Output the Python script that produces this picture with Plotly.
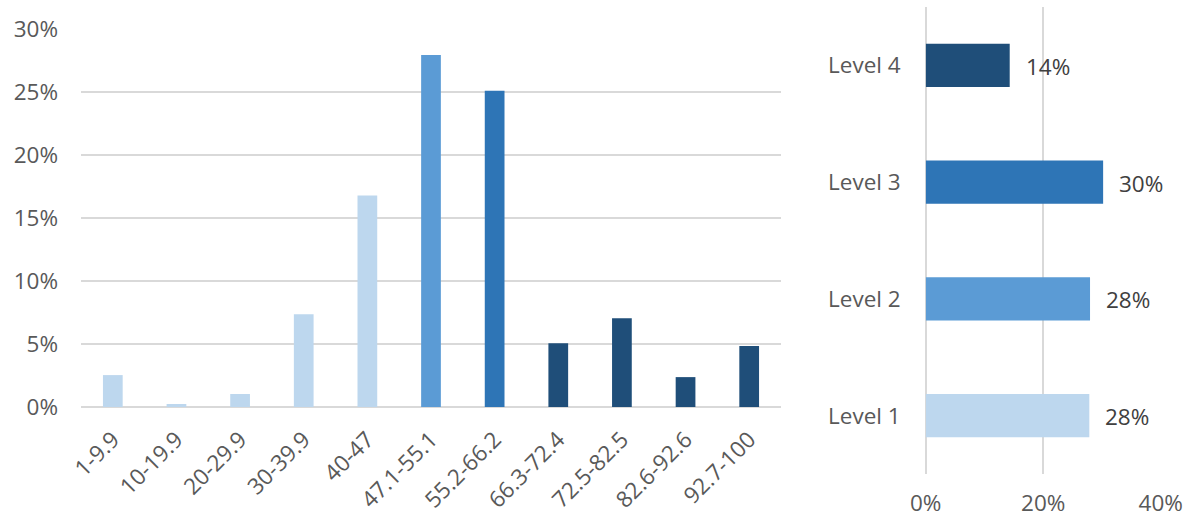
import plotly.graph_objects as go

# ---- data ----
score_bins = ["1-9.9", "10-19.9", "20-29.9", "30-39.9", "40-47", "47.1-55.1",
              "55.2-66.2", "66.3-72.4", "72.5-82.5", "82.6-92.6", "92.7-100"]
bin_share = [0.0253, 0.0024, 0.0103, 0.0736, 0.1677, 0.279, 0.2508, 0.0506, 0.0704, 0.0237, 0.0483]
bin_level = [1, 1, 1, 1, 1, 2, 3, 4, 4, 4, 4]

levels = ["Level 1", "Level 2", "Level 3", "Level 4"]
level_share = [0.2785, 0.2797, 0.302, 0.143]
level_labels = ["28%", "28%", "30%", "14%"]

level_colors = {1: "#BDD7EE", 2: "#5B9BD5", 3: "#2E75B6", 4: "#1F4E79"}

FONT = "Open Sans"
TICK_COLOR = "#595959"
GRID = "#D9D9D9"
FS = 22.5
W, H = 1191, 519

fig = go.Figure()

fig.add_trace(go.Bar(
    x=score_bins, y=bin_share, width=0.31,
    marker=dict(color=[level_colors[l] for l in bin_level], line=dict(width=0)),
    xaxis="x", yaxis="y", showlegend=False, hoverinfo="x+y",
))

fig.add_trace(go.Bar(
    y=levels, x=level_share, orientation="h", width=0.37,
    marker=dict(color=[level_colors[i + 1] for i in range(4)], line=dict(width=0)),
    xaxis="x2", yaxis="y2", showlegend=False, hoverinfo="x+y",
))

for lv, val, lab in zip(levels, level_share, level_labels):
    fig.add_annotation(x=val, y=lv, xref="x2", yref="y2", text=lab,
                       showarrow=False, xanchor="left", yanchor="middle", xshift=14, yshift=-1,
                       font=dict(family=FONT, size=FS, color="#404040"))

fig.update_layout(
    width=W, height=H,
    margin=dict(l=0, r=0, t=0, b=0),
    paper_bgcolor="white", plot_bgcolor="white",
    font=dict(family=FONT, size=FS, color=TICK_COLOR),
    xaxis=dict(domain=[81 / W, 781 / W], type="category", tickangle=-45,
               showgrid=False, zeroline=False, showline=False, ticks="",
               ticklabelstandoff=14, anchor="y", automargin=False,
               tickfont=dict(family=FONT, size=FS, color=TICK_COLOR)),
    yaxis=dict(domain=[1 - 407 / H, 1 - 28 / H], range=[0, 0.3005],
               tickformat=".0%", dtick=0.05, showgrid=True, gridcolor=GRID, gridwidth=1.5,
               zeroline=True, zerolinecolor=GRID, zerolinewidth=1.5,
               showline=False, ticks="", ticklabelstandoff=22, anchor="x", automargin=False,
               tickfont=dict(family=FONT, size=FS, color=TICK_COLOR)),
    xaxis2=dict(domain=[925.7 / W, 1161 / W], range=[0, 0.4005],
                tickformat=".0%", dtick=0.2, showgrid=True, gridcolor=GRID, gridwidth=1.5,
                zeroline=True, zerolinecolor=GRID, zerolinewidth=1.5,
                showline=False, ticks="", ticklabelstandoff=13, anchor="y2", automargin=False,
                tickfont=dict(family=FONT, size=FS, color=TICK_COLOR)),
    yaxis2=dict(domain=[1 - 474 / H, 1 - 7 / H], type="category",
                range=[-0.5, 3.5], showgrid=False, zeroline=False, showline=False,
                ticks="", ticklabelstandoff=24, anchor="x2", automargin=False,
                tickfont=dict(family=FONT, size=FS, color=TICK_COLOR)),
)

fig.write_html("out.html")
